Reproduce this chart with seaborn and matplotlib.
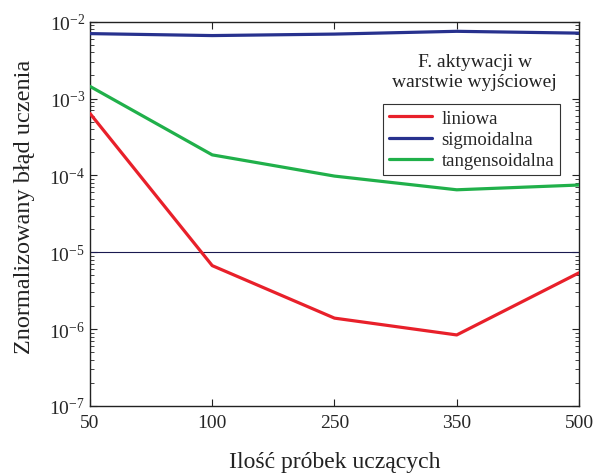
import numpy as np
import pandas as pd
import seaborn as sns
import matplotlib
matplotlib.use("Agg")
import matplotlib.pyplot as plt
from matplotlib.ticker import LogLocator, FixedLocator, FixedFormatter, NullFormatter

samples = ["50", "100", "250", "350", "500"]
liniowa = [6.4e-4, 6.7e-6, 1.39e-6, 8.4e-7, 5.4e-6]
sigmoidalna = [7.0e-3, 6.6e-3, 6.9e-3, 7.5e-3, 7.1e-3]
tangensoidalna = [1.44e-3, 1.85e-4, 9.8e-5, 6.5e-5, 7.5e-5]
series_names = ["liniowa", "sigmoidalna", "tangensoidalna"]
colors = ["#E8202A", "#27318E", "#20B04A"]
threshold = 1e-5

sns.set_style("ticks")
plt.rcParams["font.family"] = ["Liberation Serif", "DejaVu Serif"]
plt.rcParams["mathtext.fontset"] = "custom"
plt.rcParams["mathtext.rm"] = "Liberation Serif"
plt.rcParams["mathtext.default"] = "regular"

pos = list(range(len(samples)))
rows = []
for name, vals in zip(series_names, [liniowa, sigmoidalna, tangensoidalna]):
    for p, v in zip(pos, vals):
        rows.append({"pos": p, "val": v, "series": name})
df = pd.DataFrame(rows)

fig = plt.figure(figsize=(5.94, 4.77), dpi=100)
ax = fig.add_axes([0.1515, 0.1468, 0.8232, 0.8056])

ax.axhline(threshold, color="#1a1a50", lw=0.8, zorder=1)
sns.lineplot(data=df, x="pos", y="val", hue="series", hue_order=series_names,
             palette=colors, linewidth=2.3, ax=ax, legend=True, zorder=3)

ax.set_yscale("log")
ax.set_ylim(1e-7, 1e-2)
ax.set_xlim(0, len(samples) - 1)
ax.xaxis.set_major_locator(FixedLocator(pos))
ax.xaxis.set_major_formatter(FixedFormatter(samples))
yt = [1e-7, 1e-6, 1e-5, 1e-4, 1e-3, 1e-2]
ax.yaxis.set_major_locator(FixedLocator(yt))
ax.yaxis.set_major_formatter(FixedFormatter([r"$10^{%d}$" % int(np.log10(t)) for t in yt]))
ax.yaxis.set_minor_locator(LogLocator(base=10, subs=np.arange(2, 10), numticks=20))
ax.yaxis.set_minor_formatter(NullFormatter())

ax.tick_params(axis="both", which="both", direction="in", top=True, right=True,
               labelsize=14, color="#222222")
ax.tick_params(axis="both", which="major", length=5, width=0.8)
ax.tick_params(axis="y", which="minor", length=3, width=0.6)
ax.tick_params(axis="x", which="major", pad=6)
for s in ax.spines.values():
    s.set_linewidth(1.0)
    s.set_color("#222222")

ax.set_xlabel("Ilość próbek uczących", fontsize=17, labelpad=14, color="#222222")
ax.set_ylabel("Znormalizowany błąd uczenia", fontsize=17.5, color="#222222")
ax.yaxis.set_label_coords(-0.112, 0.52)

leg = ax.legend(loc="upper right", bbox_to_anchor=(0.98, 0.81), fontsize=13.5,
                frameon=True, fancybox=False, edgecolor="#333333",
                handlelength=2.3, borderpad=0.3, labelspacing=0.22, handletextpad=0.5)
leg.get_frame().set_linewidth(0.8)
leg.get_frame().set_facecolor("white")
leg.get_frame().set_alpha(1)
ax.text(0.787, 0.918, "F. aktywacji w\nwarstwie wyjściowej", transform=ax.transAxes,
        ha="center", va="top", fontsize=14, color="#222222", linespacing=1.2)

fig.savefig("out.png", dpi=100)
